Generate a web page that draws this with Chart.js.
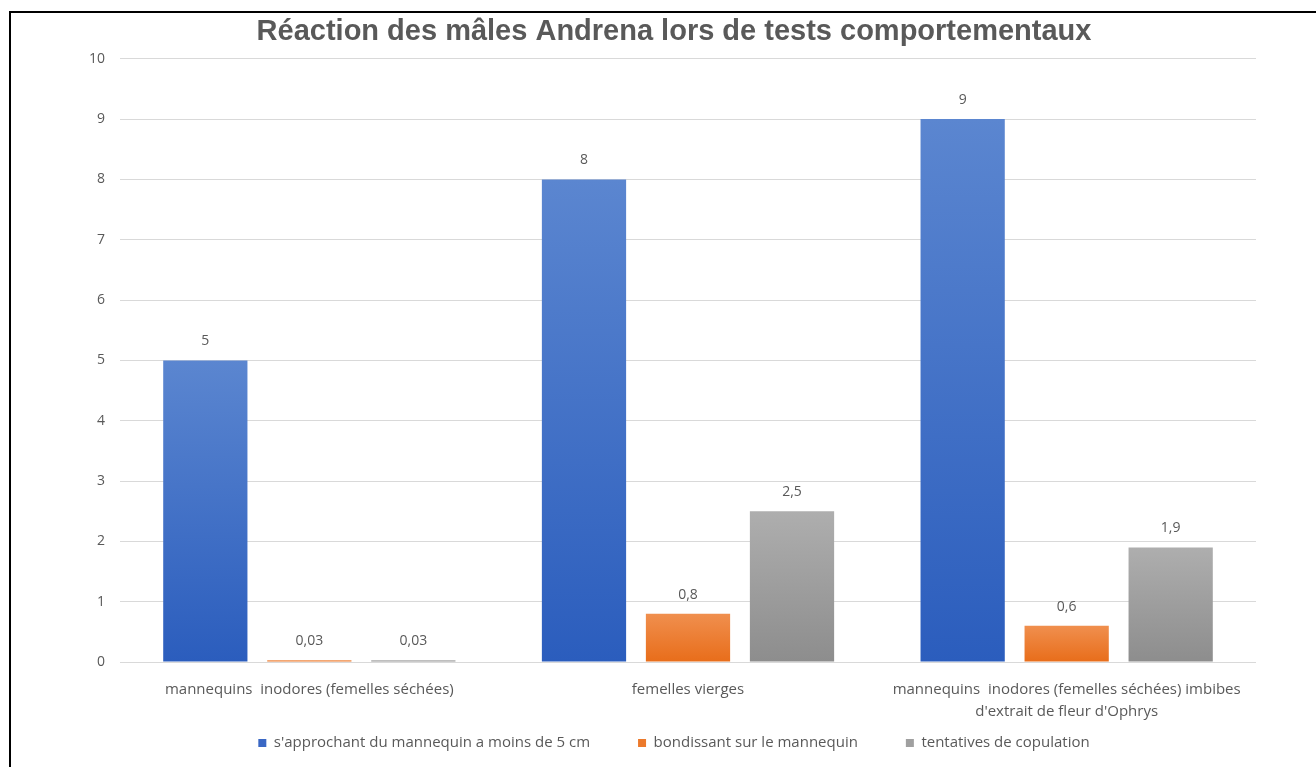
<!DOCTYPE html>
<html>
<head>
<meta charset="utf-8">
<script src="https://cdn.jsdelivr.net/npm/chart.js@4"></script>
<style>
  html, body { margin: 0; padding: 0; background: #fff; }
  #wrap { position: relative; width: 1316px; height: 767px; overflow: hidden; }
  #frame { position: absolute; left: 9px; top: 11px; width: 1400px; height: 900px;
           border-left: 2px solid #000; border-top: 2px solid #000; pointer-events: none; }
  canvas { position: absolute; left: 0; top: 0; }
</style>
</head>
<body>
<div id="wrap">
  <canvas id="c" width="1316" height="767"></canvas>
  <div id="frame"></div>
</div>
<script>
const titleText = "Réaction des mâles Andrena lors de tests comportementaux";
const categories = [
  "mannequins  inodores (femelles séchées)",
  "femelles vierges",
  ["mannequins  inodores (femelles séchées) imbibes", "d'extrait de fleur d'Ophrys"]
];
const seriesNames = [
  "s'approchant du mannequin a moins de 5 cm",
  "bondissant sur le mannequin",
  "tentatives de copulation"
];
const approche = [5, 8, 9];
const bondissant = [0.03, 0.8, 0.6];
const copulation = [0.03, 2.5, 1.9];
const yTicks = [0, 1, 2, 3, 4, 5, 6, 7, 8, 9, 10];

const gradColors = [
  ["#5b86d0", "#2b5dbd"],
  ["#f08f4e", "#e86d1a"],
  ["#aeaeae", "#8d8d8d"]
];
const legendColors = ["#3a67c4", "#ec7a2c", "#a0a0a0"];

function gradFor(idx) {
  return function (ctx) {
    const chart = ctx.chart;
    const area = chart.chartArea;
    if (!area || ctx.type !== 'data') return gradColors[idx][1];
    const y = chart.scales.y;
    const top = y.getPixelForValue(ctx.raw);
    const bot = y.getPixelForValue(0);
    if (!isFinite(top) || !isFinite(bot) || Math.abs(bot - top) < 1) return gradColors[idx][1];
    const g = chart.ctx.createLinearGradient(0, top, 0, bot);
    g.addColorStop(0, gradColors[idx][0]);
    g.addColorStop(1, gradColors[idx][1]);
    return g;
  };
}

const valueLabels = {
  id: 'valueLabels',
  afterDatasetsDraw(chart) {
    const ctx = chart.ctx;
    ctx.save();
    ctx.font = "14px 'Open Sans'";
    ctx.fillStyle = "#595959";
    ctx.textAlign = "center";
    ctx.textBaseline = "middle";
    chart.data.datasets.forEach((ds, di) => {
      const meta = chart.getDatasetMeta(di);
      meta.data.forEach((el, i) => {
        const v = ds.data[i];
        ctx.fillText(String(v).replace('.', ','), el.x, el.y - 19);
      });
    });
    ctx.restore();
  }
};

const seriesData = [approche, bondissant, copulation];

new Chart(document.getElementById('c'), {
  type: 'bar',
  data: {
    labels: categories,
    datasets: seriesNames.map((name, i) => ({
      label: name,
      data: seriesData[i],
      backgroundColor: gradFor(i),
      borderWidth: 0,
      categoryPercentage: 0.824,
      barPercentage: 0.81
    }))
  },
  options: {
    responsive: false,
    animation: false,
    layout: { padding: { left: 32, right: 0, top: 0, bottom: 6.5 } },
    plugins: {
      title: {
        display: true,
        text: titleText,
        color: "#595959",
        font: { family: "'Liberation Sans', Arial, sans-serif", size: 29, weight: 'bold', lineHeight: 1.2 },
        padding: { top: 15, bottom: 9 }
      },
      legend: {
        display: true,
        position: 'bottom',
        labels: {
          generateLabels(chart) {
            return seriesNames.map((n, i) => ({
              text: n, fillStyle: legendColors[i], strokeStyle: legendColors[i],
              lineWidth: 0, datasetIndex: i, fontColor: "#595959"
            }));
          },
          boxWidth: 8,
          boxHeight: 8,
          padding: 48,
          color: "#595959",
          font: { family: "'Open Sans'", size: 15 }
        }
      },
      tooltip: { enabled: false }
    },
    scales: {
      x: {
        grid: { display: false },
        border: { display: false },
        ticks: {
          color: "#595959",
          font: { family: "'Open Sans'", size: 15, lineHeight: 1.5 },
          padding: 8,
          maxRotation: 0,
          autoSkip: false
        },
        afterFit(s) {
          s.height = 25.5;
          s._computeLabelArea = function () { return undefined; };
        }
      },
      y: {
        min: 0,
        max: 10,
        afterBuildTicks(s) { s.ticks = yTicks.map(v => ({ value: v })); },
        grid: { color: "#d9d9d9", lineWidth: 1, drawTicks: false },
        border: { display: false },
        ticks: {
          color: "#595959",
          font: { family: "'Open Sans'", size: 14 },
          padding: 15
        },
        afterFit(s) { s.width = 88; }
      },
      yR: {
        type: 'linear',
        position: 'right',
        display: true,
        grid: { display: false },
        border: { display: false },
        ticks: { display: false },
        afterFit(s) { s.width = 60; }
      }
    }
  },
  plugins: [valueLabels]
});
</script>
</body>
</html>
